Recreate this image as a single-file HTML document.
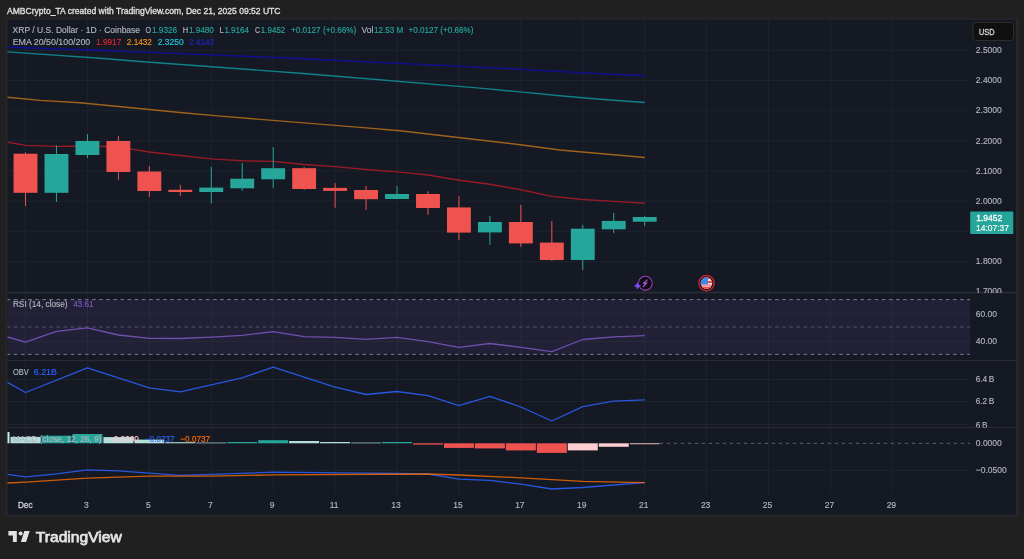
<!DOCTYPE html><html><head><meta charset="utf-8"><style>html,body{margin:0;padding:0;background:#202020;width:1024px;height:559px;overflow:hidden}svg{display:block;will-change:transform}text{font-family:"Liberation Sans", sans-serif}</style></head><body>
<svg width="1024" height="559" viewBox="0 0 1024 559">
<rect x="0" y="0" width="1024" height="559" fill="#202020"/>
<text x="7" y="14.2" font-size="8.5" fill="#dedede" stroke="#dedede" stroke-width="0.35" textLength="273.5" lengthAdjust="spacingAndGlyphs">AMBCrypto_TA created with TradingView.com, Dec 21, 2025 09:52 UTC</text>
<rect x="5.6" y="18.2" width="1012.9" height="498.3" fill="#282828"/>
<rect x="7.5" y="19.6" width="1008.4" height="495.2" fill="#151923"/>
<line x1="25.5" y1="20" x2="25.5" y2="494" stroke="#1f2330" stroke-width="1"/>
<line x1="87.42" y1="20" x2="87.42" y2="494" stroke="#1f2330" stroke-width="1"/>
<line x1="149.34" y1="20" x2="149.34" y2="494" stroke="#1f2330" stroke-width="1"/>
<line x1="211.26" y1="20" x2="211.26" y2="494" stroke="#1f2330" stroke-width="1"/>
<line x1="273.18" y1="20" x2="273.18" y2="494" stroke="#1f2330" stroke-width="1"/>
<line x1="335.1" y1="20" x2="335.1" y2="494" stroke="#1f2330" stroke-width="1"/>
<line x1="397.02" y1="20" x2="397.02" y2="494" stroke="#1f2330" stroke-width="1"/>
<line x1="458.94" y1="20" x2="458.94" y2="494" stroke="#1f2330" stroke-width="1"/>
<line x1="520.86" y1="20" x2="520.86" y2="494" stroke="#1f2330" stroke-width="1"/>
<line x1="582.78" y1="20" x2="582.78" y2="494" stroke="#1f2330" stroke-width="1"/>
<line x1="644.7" y1="20" x2="644.7" y2="494" stroke="#1f2330" stroke-width="1"/>
<line x1="706.62" y1="20" x2="706.62" y2="494" stroke="#1f2330" stroke-width="1"/>
<line x1="768.54" y1="20" x2="768.54" y2="494" stroke="#1f2330" stroke-width="1"/>
<line x1="830.46" y1="20" x2="830.46" y2="494" stroke="#1f2330" stroke-width="1"/>
<line x1="892.38" y1="20" x2="892.38" y2="494" stroke="#1f2330" stroke-width="1"/>
<line x1="8" y1="50.4" x2="970" y2="50.4" stroke="#1f2330" stroke-width="1"/>
<line x1="8" y1="80.54000000000002" x2="970" y2="80.54000000000002" stroke="#1f2330" stroke-width="1"/>
<line x1="8" y1="110.68000000000005" x2="970" y2="110.68000000000005" stroke="#1f2330" stroke-width="1"/>
<line x1="8" y1="140.81999999999994" x2="970" y2="140.81999999999994" stroke="#1f2330" stroke-width="1"/>
<line x1="8" y1="170.95999999999995" x2="970" y2="170.95999999999995" stroke="#1f2330" stroke-width="1"/>
<line x1="8" y1="201.1" x2="970" y2="201.1" stroke="#1f2330" stroke-width="1"/>
<line x1="8" y1="231.24" x2="970" y2="231.24" stroke="#1f2330" stroke-width="1"/>
<line x1="8" y1="261.38000000000005" x2="970" y2="261.38000000000005" stroke="#1f2330" stroke-width="1"/>
<line x1="8" y1="291.52" x2="970" y2="291.52" stroke="#1f2330" stroke-width="1"/>
<rect x="8" y="299.6" width="962" height="54.799999999999955" fill="#7e57c2" fill-opacity="0.13"/>
<line x1="8" y1="313.6" x2="970" y2="313.6" stroke="#1f2330" stroke-width="1"/>
<line x1="8" y1="341.5" x2="970" y2="341.5" stroke="#1f2330" stroke-width="1"/>
<line x1="8" y1="379.5" x2="970" y2="379.5" stroke="#1f2330" stroke-width="1"/>
<line x1="8" y1="401.5" x2="970" y2="401.5" stroke="#1f2330" stroke-width="1"/>
<line x1="8" y1="424.5" x2="970" y2="424.5" stroke="#1f2330" stroke-width="1"/>
<line x1="8" y1="470.4" x2="970" y2="470.4" stroke="#1f2330" stroke-width="1"/>
<line x1="8" y1="313.6" x2="970" y2="313.6" stroke="#ffffff" stroke-opacity="0.035" stroke-width="1"/>
<line x1="8" y1="341.5" x2="970" y2="341.5" stroke="#ffffff" stroke-opacity="0.035" stroke-width="1"/>
<line x1="7.5" y1="299.6" x2="970" y2="299.6" stroke="#8a8d96" stroke-opacity="0.85" stroke-width="1" stroke-dasharray="3.6 3.515" stroke-dashoffset="0.8"/>
<line x1="7.5" y1="327.0" x2="970" y2="327.0" stroke="#8a8d96" stroke-opacity="0.5" stroke-width="1" stroke-dasharray="3.6 3.515" stroke-dashoffset="0.8"/>
<line x1="7.5" y1="354.4" x2="970" y2="354.4" stroke="#8a8d96" stroke-opacity="0.85" stroke-width="1" stroke-dasharray="3.6 3.515" stroke-dashoffset="0.8"/>
<rect x="7.5" y="291.2" width="1008.4" height="2.8" fill="#1d212c"/>
<line x1="8" y1="292.6" x2="1016" y2="292.6" stroke="#2a2e39" stroke-width="1"/>
<line x1="8" y1="360.6" x2="1016" y2="360.6" stroke="#2a2e39" stroke-width="1"/>
<line x1="8" y1="427.6" x2="1016" y2="427.6" stroke="#2a2e39" stroke-width="1"/>
<polyline points="7.5,47.1 100.0,50.4 140.0,52.0 300.0,58.6 340.0,60.5 480.0,67.2 520.0,69.3 610.0,74.2 644.7,75.6" fill="none" stroke="#10108e" stroke-width="1.6" stroke-opacity="1" stroke-linejoin="round"/>
<polyline points="7.5,51.9 100.0,58.2 140.0,61.5 300.0,73.3 340.0,76.5 480.0,88.1 520.0,91.9 560.0,95.7 600.0,99.3 644.7,102.5" fill="none" stroke="#0e8189" stroke-width="1.4" stroke-opacity="1" stroke-linejoin="round"/>
<polyline points="7.5,97.2 40.0,100.4 80.0,102.7 180.0,112.5 220.0,116.1 360.0,127.4 400.0,130.8 520.0,144.7 560.0,150.0 644.7,157.5" fill="none" stroke="#a0621b" stroke-width="1.4" stroke-opacity="1" stroke-linejoin="round"/>
<polyline points="7.8,142.3 25.5,145.4 56.5,146.4 87.4,146.0 118.4,147.0 149.3,152.0 180.3,155.5 211.3,158.9 242.2,160.7 273.2,161.4 304.1,164.5 335.1,166.6 366.1,169.5 397.0,171.9 428.0,175.0 458.9,180.3 489.9,184.3 520.9,189.7 551.8,196.4 582.8,199.5 613.7,201.4 644.7,203.2" fill="none" stroke="#961b26" stroke-width="1.4" stroke-opacity="1" stroke-linejoin="round"/>
<rect x="25.0" y="152.4" width="1" height="53.599999999999994" fill="#ef5350"/>
<rect x="13.55" y="153.7" width="23.9" height="39.10000000000002" fill="#ef5350"/>
<rect x="55.96" y="145.3" width="1" height="56.69999999999999" fill="#26a69a"/>
<rect x="44.510000000000005" y="154" width="23.9" height="38.80000000000001" fill="#26a69a"/>
<rect x="86.92" y="134" width="1" height="24" fill="#26a69a"/>
<rect x="75.47" y="141" width="23.9" height="14" fill="#26a69a"/>
<rect x="117.88" y="135.8" width="1" height="44.0" fill="#ef5350"/>
<rect x="106.42999999999999" y="141" width="23.9" height="31" fill="#ef5350"/>
<rect x="148.84" y="166" width="1" height="30.80000000000001" fill="#ef5350"/>
<rect x="137.39000000000001" y="171.5" width="23.9" height="19.5" fill="#ef5350"/>
<rect x="179.8" y="184.8" width="1" height="11.199999999999989" fill="#ef5350"/>
<rect x="168.35000000000002" y="189.8" width="23.9" height="2.1999999999999886" fill="#ef5350"/>
<rect x="210.76" y="167" width="1" height="36.400000000000006" fill="#26a69a"/>
<rect x="199.31" y="187.6" width="23.9" height="4.400000000000006" fill="#26a69a"/>
<rect x="241.72" y="162.9" width="1" height="27.900000000000006" fill="#26a69a"/>
<rect x="230.27" y="178.7" width="23.9" height="9.600000000000023" fill="#26a69a"/>
<rect x="272.68" y="147.1" width="1" height="41.0" fill="#26a69a"/>
<rect x="261.23" y="168.2" width="23.9" height="11.100000000000023" fill="#26a69a"/>
<rect x="303.64" y="167" width="1" height="22.80000000000001" fill="#ef5350"/>
<rect x="292.19" y="168.2" width="23.9" height="20.80000000000001" fill="#ef5350"/>
<rect x="334.6" y="183" width="1" height="24.69999999999999" fill="#ef5350"/>
<rect x="323.15000000000003" y="187.9" width="23.9" height="3.0" fill="#ef5350"/>
<rect x="365.56" y="186.1" width="1" height="23.900000000000006" fill="#ef5350"/>
<rect x="354.11" y="190" width="23.9" height="9.199999999999989" fill="#ef5350"/>
<rect x="396.52" y="186" width="1" height="13" fill="#26a69a"/>
<rect x="385.07" y="194" width="23.9" height="5" fill="#26a69a"/>
<rect x="427.48" y="191.2" width="1" height="23.600000000000023" fill="#ef5350"/>
<rect x="416.03000000000003" y="194" width="23.9" height="14" fill="#ef5350"/>
<rect x="458.44" y="196.2" width="1" height="43.80000000000001" fill="#ef5350"/>
<rect x="446.99" y="207.4" width="23.9" height="25.19999999999999" fill="#ef5350"/>
<rect x="489.40000000000003" y="216" width="1" height="28.900000000000006" fill="#26a69a"/>
<rect x="477.95000000000005" y="222" width="23.9" height="10.400000000000006" fill="#26a69a"/>
<rect x="520.36" y="204.9" width="1" height="42.0" fill="#ef5350"/>
<rect x="508.91" y="222" width="23.9" height="21.400000000000006" fill="#ef5350"/>
<rect x="551.32" y="220.9" width="1" height="40.099999999999994" fill="#ef5350"/>
<rect x="539.87" y="242.6" width="23.9" height="17.400000000000006" fill="#ef5350"/>
<rect x="582.28" y="224.8" width="1" height="45.19999999999999" fill="#26a69a"/>
<rect x="570.8299999999999" y="228.7" width="23.9" height="31.30000000000001" fill="#26a69a"/>
<rect x="613.24" y="213" width="1" height="20.19999999999999" fill="#26a69a"/>
<rect x="601.79" y="220.9" width="23.9" height="8.400000000000006" fill="#26a69a"/>
<rect x="644.2" y="216.2" width="1" height="9.600000000000023" fill="#26a69a"/>
<rect x="632.75" y="217" width="23.9" height="4.699999999999989" fill="#26a69a"/>
<polyline points="7.5,337.0 25.5,342.1 56.5,331.4 87.4,327.9 118.4,335.0 149.3,338.4 180.3,338.5 211.3,337.2 242.2,335.3 273.2,331.6 304.1,336.6 335.1,337.4 366.1,339.3 397.0,337.4 428.0,341.6 458.9,347.4 489.9,343.5 520.9,347.4 551.8,351.7 582.8,339.5 613.7,336.9 644.7,335.6" fill="none" stroke="#7e57c2" stroke-width="1.3" stroke-opacity="0.85" stroke-linejoin="round"/>
<polyline points="7.5,382.4 25.5,392.5 87.4,367.9 149.3,387.8 180.3,391.8 242.2,377.8 273.2,367.1 335.1,387.2 366.1,394.5 397.0,391.5 428.0,395.6 458.9,405.7 489.9,396.3 520.9,407.0 551.8,421.0 582.8,406.7 613.7,401.1 644.7,399.9" fill="none" stroke="#2962ff" stroke-width="1.3" stroke-opacity="0.85" stroke-linejoin="round"/>
<rect x="7.5" y="432" width="2" height="11.300000000000011" fill="#c8ebe7"/>
<rect x="10.5" y="436.9" width="30" height="6.400000000000034" fill="#b2dfdb"/>
<rect x="41.46" y="435.7" width="30" height="7.600000000000023" fill="#26a69a"/>
<rect x="72.42" y="434.0" width="30" height="9.300000000000011" fill="#26a69a"/>
<rect x="103.38" y="437.1" width="30" height="6.199999999999989" fill="#b2dfdb"/>
<rect x="134.34" y="439.6" width="30" height="3.6999999999999886" fill="#b2dfdb"/>
<rect x="165.3" y="442.2" width="30" height="1.1000000000000227" fill="#b2dfdb"/>
<rect x="196.26" y="442.6" width="30" height="0.6999999999999886" fill="#b2dfdb"/>
<rect x="227.22" y="442" width="30" height="1.3000000000000114" fill="#26a69a"/>
<rect x="258.18" y="440.2" width="30" height="3.1000000000000227" fill="#26a69a"/>
<rect x="289.14" y="441" width="30" height="2.3000000000000114" fill="#b2dfdb"/>
<rect x="320.1" y="442" width="30" height="1.3000000000000114" fill="#b2dfdb"/>
<rect x="351.06" y="442.6" width="30" height="0.6999999999999886" fill="#b2dfdb"/>
<rect x="382.02" y="442" width="30" height="1.3000000000000114" fill="#26a69a"/>
<rect x="412.98" y="443.3" width="30" height="1.3000000000000114" fill="#ef5350"/>
<rect x="443.94" y="443.3" width="30" height="4.599999999999966" fill="#ef5350"/>
<rect x="474.90000000000003" y="443.3" width="30" height="5.099999999999966" fill="#ef5350"/>
<rect x="505.86" y="443.3" width="30" height="7.099999999999966" fill="#ef5350"/>
<rect x="536.82" y="443.3" width="30" height="9.599999999999966" fill="#ef5350"/>
<rect x="567.78" y="443.3" width="30" height="7.099999999999966" fill="#ffcdd2"/>
<rect x="598.74" y="443.3" width="30" height="3.5" fill="#ffcdd2"/>
<rect x="629.7" y="443.3" width="30" height="0.8999999999999773" fill="#ffcdd2"/>
<line x1="659.7" y1="443.3" x2="970" y2="443.3" stroke="#5d606b" stroke-width="1" stroke-dasharray="3.5 3.5"/>
<polyline points="7.5,474.4 25.5,476.8 56.5,473.8 87.4,469.9 118.4,470.9 149.3,473.2 180.3,475.4 273.2,472.2 366.1,473.2 397.0,473.5 428.0,474.0 458.9,479.1 489.9,480.4 520.9,484.2 551.8,489.0 582.8,487.5 613.7,485.0 644.7,482.6" fill="none" stroke="#2962ff" stroke-width="1.3" stroke-opacity="0.85" stroke-linejoin="round"/>
<polyline points="7.5,483.0 25.5,482.2 87.4,478.1 149.3,476.2 211.3,476.2 273.2,474.8 428.0,474.0 458.9,475.0 520.9,477.8 582.8,481.4 644.7,482.6" fill="none" stroke="#ff6d00" stroke-width="1.3" stroke-opacity="0.8" stroke-linejoin="round"/>
<text x="12.6" y="33.4" font-size="9.0" fill="#b2b5be" stroke="#b2b5be" stroke-width="0.15" textLength="127.50" lengthAdjust="spacingAndGlyphs" >XRP / U.S. Dollar · 1D · Coinbase</text>
<text x="145.6" y="33.4" font-size="9.0" fill="#b2b5be" stroke="#b2b5be" stroke-width="0.15" textLength="5.50" lengthAdjust="spacingAndGlyphs" >O</text>
<text x="151.9" y="33.4" font-size="9.0" fill="#26a69a" stroke="#26a69a" stroke-width="0.15" textLength="25.30" lengthAdjust="spacingAndGlyphs" >1.9326</text>
<text x="182.7" y="33.4" font-size="9.0" fill="#b2b5be" stroke="#b2b5be" stroke-width="0.15" textLength="5.40" lengthAdjust="spacingAndGlyphs" >H</text>
<text x="188.9" y="33.4" font-size="9.0" fill="#26a69a" stroke="#26a69a" stroke-width="0.15" textLength="25.00" lengthAdjust="spacingAndGlyphs" >1.9480</text>
<text x="219.4" y="33.4" font-size="9.0" fill="#b2b5be" stroke="#b2b5be" stroke-width="0.15" textLength="4.35" lengthAdjust="spacingAndGlyphs" >L</text>
<text x="224.4" y="33.4" font-size="9.0" fill="#26a69a" stroke="#26a69a" stroke-width="0.15" textLength="24.60" lengthAdjust="spacingAndGlyphs" >1.9164</text>
<text x="255" y="33.4" font-size="9.0" fill="#b2b5be" stroke="#b2b5be" stroke-width="0.15" textLength="5.00" lengthAdjust="spacingAndGlyphs" >C</text>
<text x="260.8" y="33.4" font-size="9.0" fill="#26a69a" stroke="#26a69a" stroke-width="0.15" textLength="24.50" lengthAdjust="spacingAndGlyphs" >1.9452</text>
<text x="290.9" y="33.4" font-size="9.0" fill="#26a69a" stroke="#26a69a" stroke-width="0.15" textLength="65.40" lengthAdjust="spacingAndGlyphs" >+0.0127 (+0.66%)</text>
<text x="361.6" y="33.4" font-size="9.0" fill="#b2b5be" stroke="#b2b5be" stroke-width="0.15" textLength="11.90" lengthAdjust="spacingAndGlyphs" >Vol</text>
<text x="373.9" y="33.4" font-size="9.0" fill="#26a69a" stroke="#26a69a" stroke-width="0.15" textLength="29.30" lengthAdjust="spacingAndGlyphs" >12.53 M</text>
<text x="408.4" y="33.4" font-size="9.0" fill="#26a69a" stroke="#26a69a" stroke-width="0.15" textLength="65.10" lengthAdjust="spacingAndGlyphs" >+0.0127 (+0.66%)</text>
<text x="12.7" y="45" font-size="9.0" fill="#b2b5be" stroke="#b2b5be" stroke-width="0.15" textLength="77.60" lengthAdjust="spacingAndGlyphs" >EMA 20/50/100/200</text>
<text x="96.1" y="45" font-size="9.0" fill="#e0282e" stroke="#e0282e" stroke-width="0.15" textLength="25.10" lengthAdjust="spacingAndGlyphs" >1.9917</text>
<text x="126.8" y="45" font-size="9.0" fill="#f7931a" stroke="#f7931a" stroke-width="0.15" textLength="25.10" lengthAdjust="spacingAndGlyphs" >2.1432</text>
<text x="157.7" y="45" font-size="9.0" fill="#1fc8db" stroke="#1fc8db" stroke-width="0.15" textLength="26.00" lengthAdjust="spacingAndGlyphs" >2.3250</text>
<text x="189.1" y="45" font-size="9.0" fill="#2424c8" stroke="#2424c8" stroke-width="0.15" textLength="25.10" lengthAdjust="spacingAndGlyphs" >2.4143</text>
<text x="12.9" y="307.2" font-size="9.0" fill="#b2b5be" stroke="#b2b5be" stroke-width="0.15" textLength="54.70" lengthAdjust="spacingAndGlyphs" >RSI (14, close)</text>
<text x="73.2" y="307.2" font-size="9.0" fill="#7e57c2" stroke="#7e57c2" stroke-width="0.15" textLength="20.20" lengthAdjust="spacingAndGlyphs" >43.61</text>
<text x="13" y="374.8" font-size="9.0" fill="#b2b5be" stroke="#b2b5be" stroke-width="0.15" textLength="15.80" lengthAdjust="spacingAndGlyphs" >OBV</text>
<text x="33.8" y="374.8" font-size="9.0" fill="#2962ff" stroke="#2962ff" stroke-width="0.15" textLength="23.10" lengthAdjust="spacingAndGlyphs" >6.21B</text>
<text x="12.7" y="441.7" font-size="9.0" fill="#b2b5be" stroke="#b2b5be" stroke-width="0.15" textLength="88.90" lengthAdjust="spacingAndGlyphs" >MACD (close, 12, 26, 9)</text>
<text x="109.1" y="441.7" font-size="9.0" fill="#ffcdd2" stroke="#ffcdd2" stroke-width="0.15" textLength="29.60" lengthAdjust="spacingAndGlyphs" >−0.0000</text>
<text x="145.1" y="441.7" font-size="9.0" fill="#2962ff" stroke="#2962ff" stroke-width="0.15" textLength="29.30" lengthAdjust="spacingAndGlyphs" >−0.0737</text>
<text x="180.3" y="441.7" font-size="9.0" fill="#ff6d00" stroke="#ff6d00" stroke-width="0.15" textLength="29.90" lengthAdjust="spacingAndGlyphs" >−0.0737</text>
<defs><clipPath id="cm"><rect x="0" y="19" width="1024" height="274"/></clipPath><clipPath id="co"><rect x="0" y="361" width="1024" height="66.5"/></clipPath></defs>
<g clip-path="url(#cm)">
<text x="975.8" y="53.1" font-size="9.0" fill="#b2b5be" stroke="#b2b5be" stroke-width="0.15" textLength="26.00" lengthAdjust="spacingAndGlyphs" >2.5000</text>
<text x="975.8" y="83.24000000000002" font-size="9.0" fill="#b2b5be" stroke="#b2b5be" stroke-width="0.15" textLength="26.00" lengthAdjust="spacingAndGlyphs" >2.4000</text>
<text x="975.8" y="113.38000000000005" font-size="9.0" fill="#b2b5be" stroke="#b2b5be" stroke-width="0.15" textLength="26.00" lengthAdjust="spacingAndGlyphs" >2.3000</text>
<text x="975.8" y="143.51999999999992" font-size="9.0" fill="#b2b5be" stroke="#b2b5be" stroke-width="0.15" textLength="26.00" lengthAdjust="spacingAndGlyphs" >2.2000</text>
<text x="975.8" y="173.65999999999994" font-size="9.0" fill="#b2b5be" stroke="#b2b5be" stroke-width="0.15" textLength="26.00" lengthAdjust="spacingAndGlyphs" >2.1000</text>
<text x="975.8" y="203.79999999999998" font-size="9.0" fill="#b2b5be" stroke="#b2b5be" stroke-width="0.15" textLength="26.00" lengthAdjust="spacingAndGlyphs" >2.0000</text>
<text x="975.8" y="233.94" font-size="9.0" fill="#b2b5be" stroke="#b2b5be" stroke-width="0.15" textLength="26.00" lengthAdjust="spacingAndGlyphs" >1.9000</text>
<text x="975.8" y="264.08000000000004" font-size="9.0" fill="#b2b5be" stroke="#b2b5be" stroke-width="0.15" textLength="26.00" lengthAdjust="spacingAndGlyphs" >1.8000</text>
<text x="975.8" y="294.21999999999997" font-size="9.0" fill="#b2b5be" stroke="#b2b5be" stroke-width="0.15" textLength="26.00" lengthAdjust="spacingAndGlyphs" >1.7000</text>
</g>
<text x="975.8" y="317.1" font-size="9.0" fill="#b2b5be" stroke="#b2b5be" stroke-width="0.15" textLength="21.27" lengthAdjust="spacingAndGlyphs" >60.00</text>
<text x="975.8" y="343.6" font-size="9.0" fill="#b2b5be" stroke="#b2b5be" stroke-width="0.15" textLength="21.27" lengthAdjust="spacingAndGlyphs" >40.00</text>
<g clip-path="url(#co)">
<text x="975.7" y="382.1" font-size="9.0" fill="#b2b5be" stroke="#b2b5be" stroke-width="0.15" textLength="18.70" lengthAdjust="spacingAndGlyphs" >6.4 B</text>
<text x="975.7" y="403.9" font-size="9.0" fill="#b2b5be" stroke="#b2b5be" stroke-width="0.15" textLength="18.70" lengthAdjust="spacingAndGlyphs" >6.2 B</text>
<text x="975.7" y="427.5" font-size="9.0" fill="#b2b5be" stroke="#b2b5be" stroke-width="0.15" textLength="11.80" lengthAdjust="spacingAndGlyphs" >6 B</text>
</g>
<text x="975.8" y="446.2" font-size="9.0" fill="#b2b5be" stroke="#b2b5be" stroke-width="0.15" textLength="26.00" lengthAdjust="spacingAndGlyphs" >0.0000</text>
<text x="975.8" y="473.2" font-size="9.0" fill="#b2b5be" stroke="#b2b5be" stroke-width="0.15" textLength="30.96" lengthAdjust="spacingAndGlyphs" >−0.0500</text>
<rect x="973" y="22.5" width="40.5" height="18" rx="3" fill="#101010" stroke="#2e2e2e" stroke-width="1"/>
<text x="979" y="34.6" font-size="8.6" fill="#d8d8d8" stroke="#d8d8d8" stroke-width="0.3" textLength="15.5" lengthAdjust="spacingAndGlyphs">USD</text>
<rect x="970.2" y="211.4" width="43.1" height="22.6" rx="1" fill="#26a69a"/>
<text x="976.2" y="220.8" font-size="9.8" fill="#ffffff" stroke="#ffffff" stroke-width="0.3" textLength="26.00" lengthAdjust="spacingAndGlyphs" >1.9452</text>
<text x="976.0" y="231.1" font-size="9.6" fill="#ffffff" stroke="#ffffff" stroke-width="0.15" textLength="33.08" lengthAdjust="spacingAndGlyphs" >14:07:37</text>
<text x="17.9" y="508.4" font-size="9.0" fill="#c8cad0" stroke="#c8cad0" stroke-width="0.35" textLength="14.70" lengthAdjust="spacingAndGlyphs" >Dec</text>
<text x="86.42" y="508.3" font-size="8.5" fill="#b2b5be" stroke="#b2b5be" stroke-width="0.15" text-anchor="middle">3</text>
<text x="148.34" y="508.3" font-size="8.5" fill="#b2b5be" stroke="#b2b5be" stroke-width="0.15" text-anchor="middle">5</text>
<text x="210.26" y="508.3" font-size="8.5" fill="#b2b5be" stroke="#b2b5be" stroke-width="0.15" text-anchor="middle">7</text>
<text x="272.18" y="508.3" font-size="8.5" fill="#b2b5be" stroke="#b2b5be" stroke-width="0.15" text-anchor="middle">9</text>
<text x="334.1" y="508.3" font-size="8.5" fill="#b2b5be" stroke="#b2b5be" stroke-width="0.15" text-anchor="middle">11</text>
<text x="396.02" y="508.3" font-size="8.5" fill="#b2b5be" stroke="#b2b5be" stroke-width="0.15" text-anchor="middle">13</text>
<text x="457.94" y="508.3" font-size="8.5" fill="#b2b5be" stroke="#b2b5be" stroke-width="0.15" text-anchor="middle">15</text>
<text x="519.86" y="508.3" font-size="8.5" fill="#b2b5be" stroke="#b2b5be" stroke-width="0.15" text-anchor="middle">17</text>
<text x="581.78" y="508.3" font-size="8.5" fill="#b2b5be" stroke="#b2b5be" stroke-width="0.15" text-anchor="middle">19</text>
<text x="643.7" y="508.3" font-size="8.5" fill="#b2b5be" stroke="#b2b5be" stroke-width="0.15" text-anchor="middle">21</text>
<text x="705.62" y="508.3" font-size="8.5" fill="#b2b5be" stroke="#b2b5be" stroke-width="0.15" text-anchor="middle">23</text>
<text x="767.54" y="508.3" font-size="8.5" fill="#b2b5be" stroke="#b2b5be" stroke-width="0.15" text-anchor="middle">25</text>
<text x="829.46" y="508.3" font-size="8.5" fill="#b2b5be" stroke="#b2b5be" stroke-width="0.15" text-anchor="middle">27</text>
<text x="891.38" y="508.3" font-size="8.5" fill="#b2b5be" stroke="#b2b5be" stroke-width="0.15" text-anchor="middle">29</text>
<g>
<circle cx="645.35" cy="283.2" r="6.9" fill="#0c0c10" stroke="#a03fc4" stroke-width="1.1"/>
<path d="M647.5,279.6 L643.3,283.5 L646.5,283.1 L642.9,287.0" fill="none" stroke="#b04fd6" stroke-width="1.25" stroke-linejoin="miter" stroke-miterlimit="3"/>
<path d="M637.5,281.9 Q638.2,285.0 641.2,285.7 Q638.2,286.4 637.5,289.5 Q636.8,286.4 633.8,285.7 Q636.8,285.0 637.5,281.9 Z" fill="#7c4dff" stroke="#131722" stroke-width="0.8" paint-order="stroke"/>
<circle cx="706.5" cy="283.1" r="7.6" fill="#0c0c0c" stroke="#c62333" stroke-width="1.5"/>
<clipPath id="fl"><circle cx="706.5" cy="283.1" r="5.8"/></clipPath>
<g clip-path="url(#fl)"><rect x="700" y="277" width="13" height="13" fill="#f4f4f4"/>
<rect x="700" y="277.0" width="13" height="2.2" fill="#ef4a4a"/>
<rect x="700" y="280.9" width="13" height="2.3" fill="#ef4a4a"/>
<rect x="700" y="284.6" width="13" height="1.0" fill="#ef4a4a"/>
<rect x="700" y="286.6" width="13" height="3" fill="#ef4a4a"/>
<rect x="700" y="277" width="8.0" height="7.4" fill="#3f88ea"/></g>
</g>
<g fill="#e3e3e3">
<path d="M8.4,531.1 H16.8 V542 H12.9 V535.4 H8.4 Z"/>
<circle cx="20.6" cy="533.4" r="2"/>
<path d="M24.3,531.1 H29.7 L26.1,542 H20.9 Z"/>
</g>
<text x="35.8" y="541.9" font-size="15" fill="#e3e3e3" stroke="#e3e3e3" stroke-width="0.75" textLength="85.9" lengthAdjust="spacingAndGlyphs">TradingView</text>
</svg></body></html>
